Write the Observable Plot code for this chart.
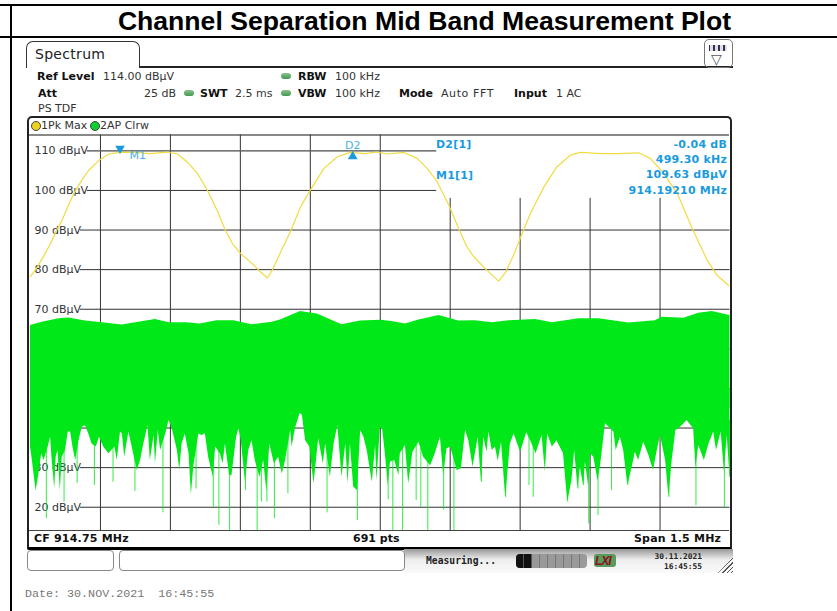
<!DOCTYPE html>
<html><head><meta charset="utf-8">
<script src="https://cdn.jsdelivr.net/npm/d3@7"></script>
<script src="https://cdn.jsdelivr.net/npm/@observablehq/plot@0.6"></script>
<style>
html,body{margin:0;padding:0;background:#fff}
#page{position:relative;width:837px;height:611px;overflow:hidden;font-family:"DejaVu Sans",sans-serif;font-size:11px;color:#333}
#page div,#page span.a{position:absolute;white-space:pre;line-height:1}
#chart{position:absolute;left:0;top:0}
#chart svg{background:transparent;display:block}
b{color:#111;font-weight:bold}
.led{width:10px;height:6px;border-radius:4px;background:linear-gradient(#8fc08f,#3f9a4f)}
.blue{color:#1a9be0;font-weight:bold;letter-spacing:.2px}
</style></head><body>
<div id="page">
  <div style="left:0;top:4px;width:837px;height:2px;background:#000"></div>
  <div style="left:0;top:36px;width:837px;height:2px;background:#000"></div>
  <div style="left:10px;top:4px;width:2px;height:607px;background:#000"></div>
  <div style="left:12px;top:7px;width:825px;text-align:center;font:bold 26.6px 'Liberation Sans';color:#000;line-height:28px;">Channel Separation Mid Band Measurement Plot</div>

  <div style="left:139px;top:66px;width:594px;height:1.5px;background:#222"></div>
  <div style="left:26px;top:41px;width:112px;height:26px;border:1.5px solid #333;border-bottom:none;border-radius:7px 7px 0 0"></div>
  <div style="left:35px;top:47px;font-size:14px;letter-spacing:.3px;color:#222">Spectrum</div>
  <div style="left:704px;top:39px;width:27px;height:27px;border:1px solid #777;border-radius:5px"></div>
  <div style="left:709px;top:45px;width:18px;height:6px;background:repeating-linear-gradient(90deg,#334 0 1px,#dde 1px 4px,#334 4px 5px);"></div>
  <div style="left:711px;top:52px;font-size:14px;color:#556">▽</div>

  <div style="left:37px;top:71px"><b>Ref Level</b></div>
  <div style="left:103px;top:71px">114.00 dBµV</div>
  <div class="led" style="left:281px;top:73px"></div>
  <div style="left:298px;top:71px"><b>RBW</b></div>
  <div style="left:335px;top:71px">100 kHz</div>

  <div style="left:38px;top:88px"><b>Att</b></div>
  <div style="left:144px;top:88px">25 dB</div>
  <div class="led" style="left:184px;top:90px"></div>
  <div style="left:200px;top:88px"><b>SWT</b></div>
  <div style="left:235px;top:88px">2.5 ms</div>
  <div class="led" style="left:281px;top:90px"></div>
  <div style="left:298px;top:88px"><b>VBW</b></div>
  <div style="left:335px;top:88px">100 kHz</div>
  <div style="left:399px;top:88px"><b>Mode</b></div>
  <div style="left:441px;top:88px;letter-spacing:.6px">Auto FFT</div>
  <div style="left:514px;top:88px"><b>Input</b></div>
  <div style="left:556px;top:88px">1 AC</div>
  <div style="left:38px;top:103px">PS TDF</div>

  <div style="left:27px;top:116px;width:701px;height:429px;border:2px solid #222;border-bottom:3px solid #000;border-radius:5px 5px 2px 2px"></div>
  <div style="left:29px;top:134px;width:700px;height:1.5px;background:#888"></div>
  <div style="left:29px;top:530px;width:700px;height:1px;background:#444"></div>
  <div style="left:31px;top:121px;width:8px;height:8px;border-radius:50%;background:#f0d020;border:1px solid #444"></div>
  <div style="left:41px;top:120px;color:#333">1Pk Max</div>
  <div style="left:90px;top:121px;width:8px;height:8px;border-radius:50%;background:#10d030;border:1px solid #444"></div>
  <div style="left:100px;top:120px;color:#333">2AP Clrw</div>

  <div style="left:34px;top:533px;letter-spacing:.2px"><b>CF 914.75 MHz</b></div>
  <div style="left:353px;top:533px"><b>691 pts</b></div>
  <div style="left:634px;top:533px;letter-spacing:.2px"><b>Span 1.5 MHz</b></div>

  <div style="left:404px;top:549px;width:329px;height:24px;background:linear-gradient(#999,#eee 45%,#fafafa)"></div>
  <div style="left:27px;top:550px;width:85px;height:19px;border:1px solid #888;border-radius:4px;background:#fff"></div>
  <div style="left:119px;top:550px;width:284px;height:19px;border:1px solid #888;border-radius:4px;background:#fff"></div>
  <div style="left:426px;top:555px;font:bold 9.7px 'DejaVu Sans Mono';color:#222">Measuring...</div>
  <div style="left:516px;top:554px;width:71px;height:14px;border-radius:4px;background:repeating-linear-gradient(90deg,#999 0 7px,#777 7px 8px)"></div>
  <div style="left:516px;top:554px;width:16px;height:14px;border-radius:4px 0 0 4px;background:repeating-linear-gradient(90deg,#111 0 7px,#555 7px 8px)"></div>
  <div style="left:594px;top:554px;width:22px;height:13px;border-radius:3px;background:#5a9a5a"></div>
  <div style="left:595px;top:554px;font:italic bold 12px 'Liberation Sans';color:#8a1020;letter-spacing:-1px">LXI</div>
  <div style="left:640px;top:552px;width:62px;text-align:right;font:bold 7.9px 'DejaVu Sans Mono';color:#222">30.11.2021</div>
  <div style="left:640px;top:562px;width:62px;text-align:right;font:bold 7.9px 'DejaVu Sans Mono';color:#222">16:45:55</div>
  <div style="left:718px;top:557px;width:15px;height:16px;background:repeating-linear-gradient(135deg,transparent 0 2px,#555 2px 3px);clip-path:polygon(100% 0,100% 100%,0 100%)"></div>

  <div style="left:25px;top:587px;font:11.7px 'Liberation Mono';color:#777">Date: 30.NOV.2021  16:45:55</div>
  <div id="chart"></div>
  <div class="blue" style="left:436px;top:139px">D2[1]</div>
  <div class="blue" style="left:436px;top:170px">M1[1]</div>
  <div class="blue" style="right:110px;top:139px">-0.04 dB</div>
  <div class="blue" style="right:110px;top:154px">499.30 kHz</div>
  <div class="blue" style="right:110px;top:169px">109.63 dBµV</div>
  <div class="blue" style="right:110px;top:185px">914.19210 MHz</div>
</div>
<script>
// Frequency is in kHz above the 914.00 MHz left edge of the 1.5 MHz span; levels are dBµV.
const gridFreq = [150, 300, 450, 600, 750, 900, 1050, 1200, 1350];
const gridLevel = [110, 100, 90, 80, 70, 60, 50, 40, 30, 20];

const traceFreq = [0,14,29,43,54,68,79,93,111,125,147,168,191,215,257,293,315,336,358,379,400,418,433,450,472,490,508,518,536,557,579,599,629,658,686,715,743,765,801,829,851,872,897,918,936,951,979,1004,1019,1036,1051,1072,1101,1129,1158,1179,1222,1258,1304,1329,1358,1387,1419,1451,1472,1497];
const traceLevel = [78.3,80.5,83.6,86.6,89.5,92.5,95.7,99.2,102.8,105.1,107.6,109.2,109.63,109.7,109.3,109.7,109.2,107.2,104.3,100.1,95.0,89.9,86.6,84.1,81.9,79.8,77.9,79.8,84.3,89.5,95.8,99.9,105.5,108.5,109.6,109.3,109.7,109.2,109.6,108.1,105.5,102.2,96.3,90.4,85.7,83.2,79.8,77.1,79.4,83.7,88.2,94.2,100.9,106,108.9,109.6,109.3,109.3,109.5,108.1,104.3,99.2,90.4,82.4,78.6,76.0];

const upperFreq = [0,25,61,82,118,154,197,232,268,297,333,364,400,436,475,518,536,579,615,668,708,751,775,804,833,876,918,954,990,1026,1083,1119,1176,1219,1283,1340,1354,1401,1433,1462,1497,1500];
const upperLevel = [65.9,66.7,67.6,67.8,67.0,66.6,66.0,66.7,67.4,66.6,66.6,66.3,67.1,67.1,66.1,66.7,67.3,69.4,68.8,66.1,67.0,67.2,66.9,66.3,67.3,68.4,67.0,67.1,66.6,67.1,67.4,66.6,67.6,67.6,66.5,67.1,68.0,67.7,69.0,69.4,68.5,68.4];

const lowerFreq = [0,4,12,18,24,29,38,43,46,52,55,59,64,68,75,81,86,91,97,104,111,118,125,132,141,148,157,168,181,186,193,197,202,211,218,229,236,243,252,257,265,268,274,279,290,297,304,315,320,325,332,340,345,350,361,368,375,382,392,397,407,413,418,427,432,442,447,452,461,468,475,482,492,500,507,513,523,532,540,547,558,561,568,578,583,590,599,608,618,628,633,643,651,659,668,676,681,686,693,701,708,715,722,733,740,743,750,755,761,767,772,781,790,793,804,811,820,833,843,858,868,879,886,893,901,915,924,933,940,949,960,967,972,979,983,990,997,1003,1010,1019,1029,1037,1051,1064,1074,1084,1097,1104,1109,1119,1129,1143,1152,1161,1167,1174,1179,1186,1190,1197,1201,1208,1217,1222,1233,1244,1251,1256,1265,1272,1281,1291,1297,1304,1315,1326,1336,1344,1351,1362,1369,1376,1384,1394,1408,1422,1427,1433,1445,1455,1465,1471,1481,1488,1494,1500];
const lowerLevel = [35.2,31.8,24.1,28.4,33.5,31.8,35.2,37.7,32.6,24.6,32.6,34.3,24.1,32.6,34.3,39.0,39.0,35.2,31.8,36.8,40.2,40.6,38.5,36.0,35.2,37.7,35.2,33.5,35.2,31.8,39.0,38.5,32.6,39.0,35.2,29.3,31.8,36.0,40.6,31.8,38.1,31.0,39.4,34.3,38.5,41.9,39.8,34.3,29.3,36.0,38.5,33.5,23.1,30.1,38.5,38.1,38.5,32.6,27.6,35.2,33.5,31.0,36.0,28.0,28.0,37.7,39.8,36.8,26.3,34.3,36.8,31.8,27.6,31.8,23.8,36.0,31.0,32.6,28.4,31.8,39.4,35.2,39.8,43.7,43.2,36.8,35.2,25.9,37.3,31.0,36.0,27.6,36.0,40.6,27.6,36.0,25.9,36.0,25.1,24.2,39.4,37.7,34.3,26.3,35.6,26.7,39.8,39.8,33.5,25.5,31.4,31.8,28.0,33.5,35.6,25.9,33.9,36.4,32.6,30.5,33.5,37.7,28.0,34.7,35.2,29.3,29.7,39.4,36.8,30.1,37.7,26.3,37.7,33.9,39.0,34.3,35.2,31.6,36.4,22.3,36.0,38.5,33.9,38.8,36.4,33.5,38.1,28.9,38.5,35.2,36.8,33.5,21.3,26.7,34.3,24.6,30.1,25.5,31.4,25.1,33.5,32.6,26.7,30.1,41.1,39.8,39.0,34.3,37.7,34.3,25.5,30.5,33.9,31.8,36.4,33.1,29.3,34.3,38.1,31.8,22.5,31.8,39.4,40.2,41.9,39.8,30.0,35.6,31.8,36.0,39.0,34.3,39.0,29.0,38.1,27.6];

const spikeFreq = [34,72,100,137,177,224,284,355,392,404,427,461,486,495,507,523,552,636,701,767,777,798,827,837,852,886,908,967,1019,1069,1078,1152,1174,1186,1197,1217,1246,1281,1369,1427,1488,1499];
const spikeLevel = [17.1,21.3,26.0,25.5,26.3,24.0,18.6,24.6,20.0,15.4,14.1,24.2,14.1,21.3,21.3,17.1,23.4,18.6,16.6,21.9,14.1,14.1,21.7,20.0,14.1,19.3,14.1,26.3,22.5,25.5,22.5,21.3,24.6,25.5,15.8,17.9,24.2,25.5,22.5,20.4,19.8,27.6];

const markerFreq = [192, 691];
const markerLevel = [110.6, 108.6];
const markerNames = ["M1", "D2"];

const pairs = (xs, ys) => xs.map((f, i) => ({f, v: ys[i]}));
const blue = "#1a9be0", green = "#00e817", gridColor = "#333";
const fullTop = gridFreq.filter(f => f < 900);
const cutTop = gridFreq.filter(f => f >= 900);

const chart = Plot.plot({
  width: 837, height: 611, margin: 0,
  style: {background: "transparent", overflow: "visible"},
  x: {domain: [0, 1500], range: [30, 729.5], axis: null},
  y: {domain: [114, 14], range: [134.5, 530.5], axis: null},
  marks: [
    Plot.ruleX(fullTop, {x: d => d, y1: () => 114, y2: () => 14, stroke: gridColor}),
    Plot.ruleX(cutTop, {x: d => d, y1: () => 98, y2: () => 14, stroke: gridColor}),
    Plot.ruleY([110, 100], {y: d => d, x1: () => 122, x2: () => 871, stroke: gridColor}),
    Plot.ruleY(gridLevel.slice(2), {y: d => d, x1: () => 107, x2: () => 1500, stroke: gridColor}),
    Plot.ruleY([110], {y: d => d, x1: () => 122, x2: () => 871, stroke: "#777"}),
    Plot.axisY({
      ticks: gridLevel.filter(d => d !== 60 && d !== 50 && d !== 40),
      anchor: "left", tickSize: 0, tickPadding: 0, label: null,
      tickFormat: d => d + " dBµV", textAnchor: "start", dx: 34,
      fontFamily: "DejaVu Sans", fontSize: 11, fill: "#333"
    }),
    Plot.ruleX(pairs(spikeFreq, spikeLevel), {x: "f", y1: "v", y2: () => 42, stroke: green, strokeOpacity: 0.8, strokeWidth: 1}),
    Plot.areaY(pairs(upperFreq, upperLevel), {x: "f", y1: () => 45, y2: "v", fill: green}),
    Plot.areaY(pairs(lowerFreq, lowerLevel), {x: "f", y1: "v", y2: () => 50, fill: green}),
    Plot.lineY(pairs(traceFreq, traceLevel), {x: "f", y: "v", stroke: "#f0dc40", strokeWidth: 1.2}),
    Plot.dot([0], {x: () => markerFreq[0], y: () => markerLevel[0], symbol: "triangle", r: 3.6, fill: blue, rotate: 180}),
    Plot.dot([0], {x: () => markerFreq[1], y: () => markerLevel[1], symbol: "triangle", r: 3.6, fill: blue}),
    Plot.text([markerNames[0]], {x: () => markerFreq[0] + 38, y: () => 108.8, text: d => d, fill: "#4ab0e8", fontFamily: "DejaVu Sans", fontSize: 11}),
    Plot.text([markerNames[1]], {x: () => markerFreq[1], y: () => 111.3, text: d => d, fill: "#4ab0e8", fontFamily: "DejaVu Sans", fontSize: 11})
  ]
});
document.getElementById("chart").appendChild(chart);
</script>
</body></html>
